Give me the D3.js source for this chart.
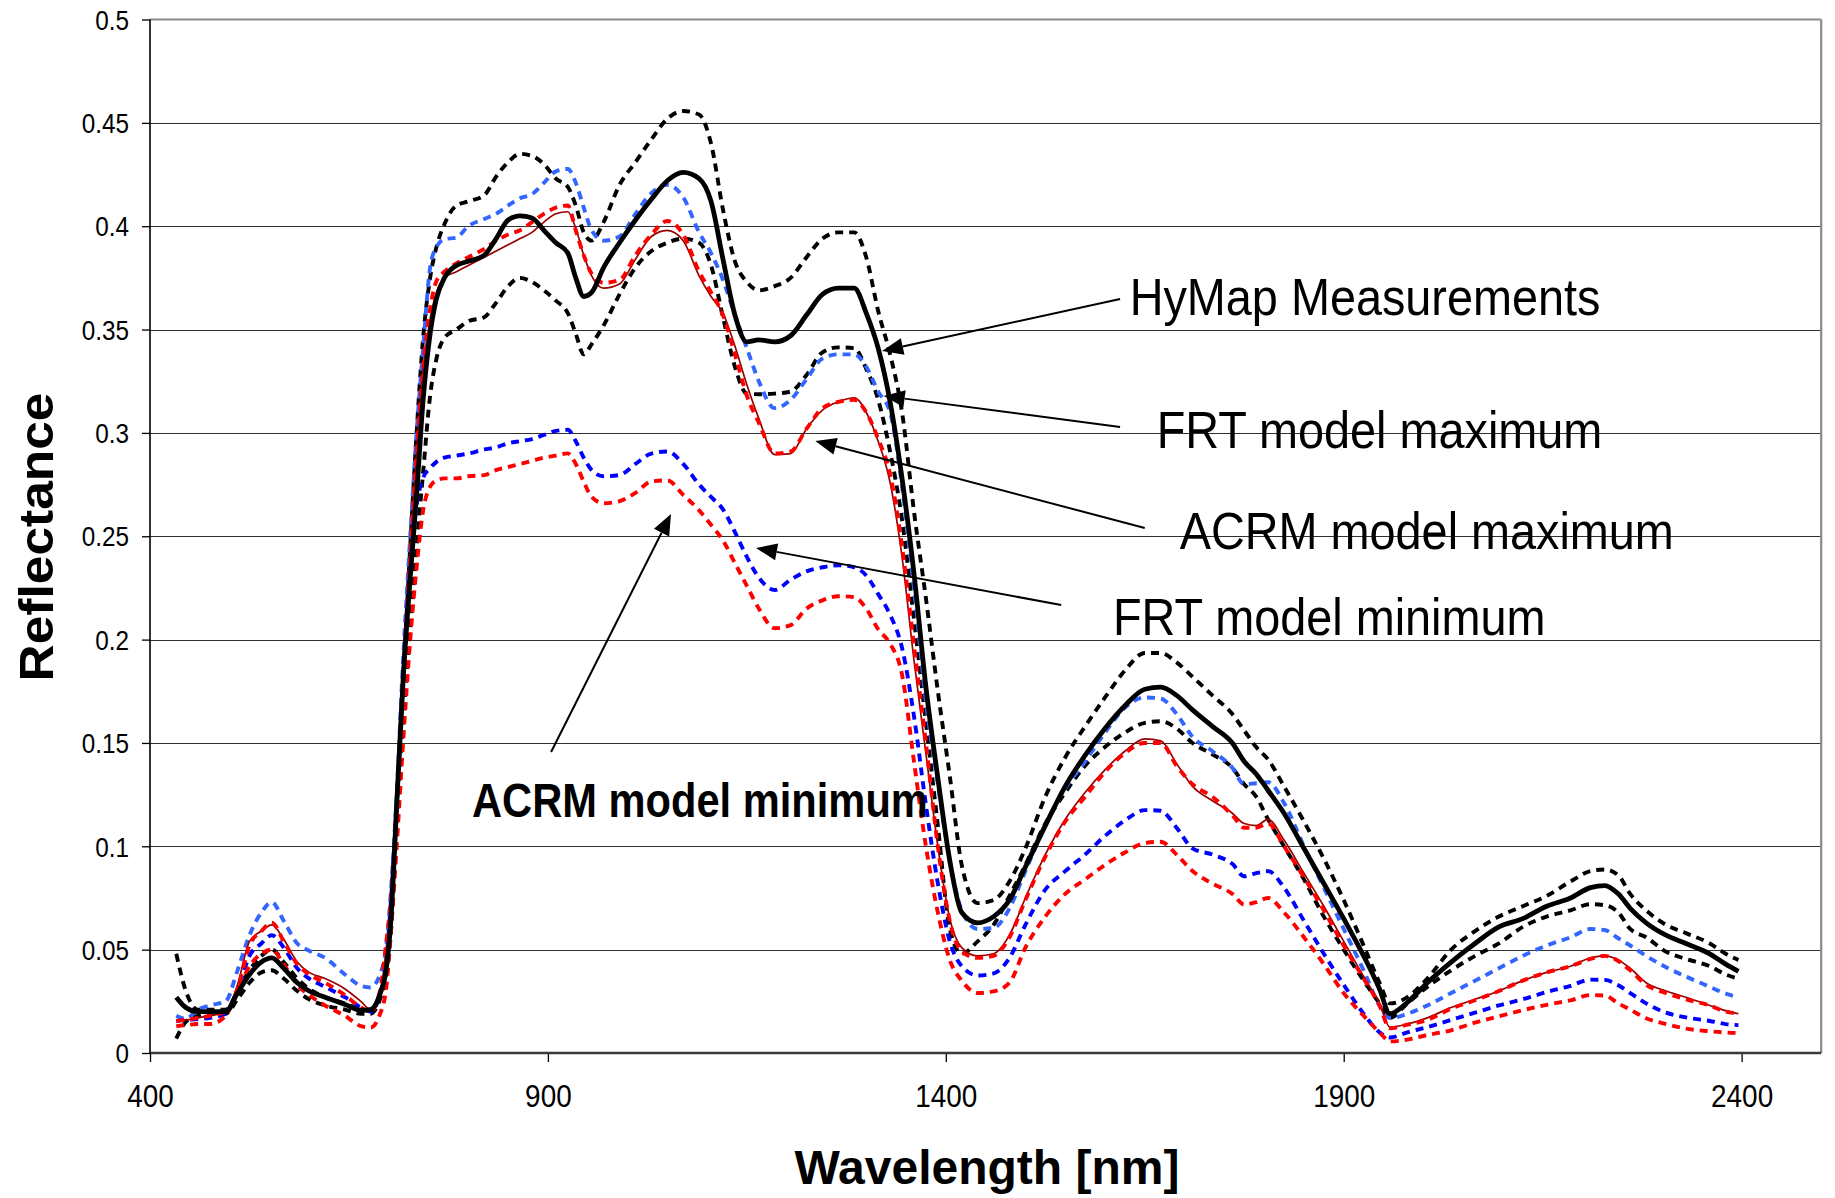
<!DOCTYPE html>
<html><head><meta charset="utf-8">
<script src="https://cdn.jsdelivr.net/npm/d3@7"></script>
<style>
html,body{margin:0;padding:0;background:#fff;}
svg{display:block;}
text{font-family:"Liberation Sans",Arial,Helvetica,sans-serif;}
</style>
</head><body>
<svg id="chart" width="1835" height="1198"></svg>
<script>
// ---------------- data ----------------
const wavelengths = [
 433,445,460,475,495,510,525,540,553,568,
 585,600,620,645,665,677,689,697,703,710,
 718,727,735,743,752,760,770,785,800,820,
 835,850,865,880,895,910,925,935,945,955,
 970,990,1010,1030,1050,1070,1090,1105,1120,1135,
 1150,1165,1185,1205,1225,1245,1265,1285,1300,1315,
 1330,1345,1360,1375,1390,1405,1420,1440,1460,1480,
 1500,1525,1550,1575,1600,1625,1650,1670,1690,1710,
 1735,1760,1775,1790,1805,1825,1850,1875,1900,1925,
 1945,1958,1980,2005,2035,2065,2095,2125,2155,2185,
 2210,2228,2245,2260,2280,2305,2330,2360,2380,2396];

const hymap = [
 0.027,0.022,0.020,0.020,0.020,0.029,0.038,0.044,0.046,0.041,
 0.034,0.030,0.027,0.0235,0.0207,0.021,0.0285,0.041,0.066,0.12,
 0.18,0.23,0.27,0.315,0.348,0.365,0.375,0.381,0.383,0.386,
 0.394,0.403,0.405,0.404,0.398,0.392,0.387,0.375,0.366,0.368,
 0.380,0.392,0.403,0.413,0.422,0.426,0.423,0.412,0.384,0.357,
 0.344,0.345,0.344,0.347,0.357,0.367,0.370,0.370,0.358,0.341,
 0.315,0.278,0.232,0.177,0.133,0.093,0.068,0.063,0.066,0.074,
 0.090,0.110,0.129,0.144,0.157,0.168,0.176,0.177,0.173,0.166,
 0.158,0.150,0.141,0.135,0.127,0.116,0.099,0.082,0.065,0.047,
 0.031,0.019,0.0245,0.034,0.044,0.053,0.061,0.065,0.071,0.075,
 0.080,0.081,0.077,0.070,0.063,0.057,0.053,0.048,0.043,0.0395];

const hymapUpper = [
 0.048,0.030,0.021,0.021,0.021,0.030,0.040,0.047,0.050,0.044,
 0.036,0.031,0.027,0.024,0.021,0.021,0.029,0.042,0.07,0.12,
 0.18,0.245,0.30,0.345,0.375,0.390,0.401,0.410,0.412,0.415,
 0.424,0.431,0.435,0.434,0.430,0.423,0.419,0.410,0.397,0.393,
 0.402,0.420,0.431,0.442,0.452,0.4557,0.454,0.440,0.408,0.383,
 0.373,0.369,0.371,0.375,0.385,0.394,0.397,0.397,0.385,0.359,
 0.338,0.310,0.262,0.220,0.175,0.134,0.091,0.0725,0.074,0.083,
 0.099,0.124,0.143,0.158,0.172,0.185,0.1935,0.1935,0.189,0.182,
 0.173,0.164,0.156,0.148,0.142,0.129,0.112,0.094,0.074,0.052,
 0.034,0.024,0.027,0.036,0.050,0.059,0.066,0.071,0.076,0.083,
 0.088,0.0888,0.086,0.077,0.069,0.062,0.058,0.053,0.048,0.045];

const hymapLower = [
 0.007,0.015,0.018,0.019,0.019,0.026,0.034,0.039,0.040,0.036,
 0.030,0.026,0.023,0.021,0.019,0.019,0.026,0.038,0.06,0.11,
 0.16,0.205,0.245,0.28,0.318,0.336,0.346,0.350,0.354,0.356,
 0.363,0.371,0.375,0.373,0.369,0.364,0.358,0.348,0.338,0.343,
 0.352,0.367,0.380,0.388,0.392,0.394,0.392,0.381,0.356,0.332,
 0.319,0.3187,0.319,0.320,0.328,0.339,0.3414,0.341,0.331,0.316,
 0.291,0.258,0.21,0.16,0.11,0.06,0.048,0.054,0.062,0.076,
 0.091,0.111,0.126,0.139,0.148,0.155,0.1597,0.1605,0.157,0.150,
 0.1445,0.138,0.130,0.124,0.113,0.100,0.084,0.066,0.050,0.035,
 0.024,0.017,0.024,0.032,0.040,0.047,0.053,0.061,0.066,0.069,
 0.072,0.0715,0.068,0.060,0.056,0.049,0.0455,0.042,0.038,0.036];

const frtMax = [
 0.018,0.0165,0.021,0.023,0.025,0.040,0.057,0.068,0.073,0.064,
 0.053,0.0495,0.046,0.038,0.0325,0.0317,0.038,0.052,0.08,0.125,
 0.19,0.25,0.30,0.34,0.380,0.390,0.3937,0.3945,0.400,0.4035,
 0.406,0.410,0.4135,0.4155,0.421,0.4265,0.4277,0.421,0.409,0.398,
 0.393,0.395,0.406,0.416,0.420,0.414,0.397,0.387,0.374,0.357,
 0.341,0.325,0.312,0.316,0.326,0.336,0.338,0.338,0.332,0.320,
 0.310,0.274,0.225,0.17,0.13,0.093,0.069,0.060,0.0605,0.070,
 0.088,0.110,0.128,0.141,0.155,0.167,0.172,0.1715,0.164,0.153,
 0.146,0.138,0.130,0.1305,0.131,0.121,0.100,0.080,0.060,0.040,
 0.023,0.0169,0.019,0.023,0.029,0.035,0.041,0.047,0.052,0.056,
 0.060,0.0595,0.0555,0.052,0.047,0.0415,0.037,0.032,0.0287,0.027];

const acrmMax = [
 0.0155,0.016,0.017,0.018,0.020,0.031,0.052,0.059,0.063,0.054,
 0.043,0.038,0.034,0.028,0.022,0.020,0.030,0.054,0.075,0.12,
 0.18,0.24,0.29,0.33,0.36,0.3735,0.378,0.382,0.385,0.389,
 0.393,0.396,0.398,0.402,0.406,0.409,0.410,0.398,0.386,0.377,
 0.3726,0.374,0.386,0.396,0.4025,0.396,0.378,0.368,0.357,0.338,
 0.318,0.305,0.290,0.291,0.302,0.312,0.315,0.316,0.310,0.297,
 0.280,0.245,0.197,0.15,0.10,0.064,0.049,0.046,0.047,0.056,
 0.074,0.095,0.112,0.124,0.136,0.145,0.150,0.150,0.139,0.130,
 0.124,0.115,0.109,0.109,0.111,0.100,0.085,0.069,0.052,0.036,
 0.023,0.012,0.0137,0.016,0.0215,0.0255,0.030,0.035,0.039,0.042,
 0.0455,0.047,0.0445,0.040,0.033,0.029,0.026,0.023,0.020,0.019];

const acrmMaxSmooth = [
 0.016,0.016,0.017,0.018,0.020,0.033,0.054,0.059,0.062,0.055,
 0.044,0.039,0.036,0.031,0.025,0.021,0.028,0.050,0.07,0.12,
 0.18,0.24,0.29,0.33,0.355,0.368,0.375,0.378,0.381,0.385,
 0.388,0.391,0.394,0.397,0.402,0.406,0.407,0.399,0.386,0.376,
 0.370,0.372,0.384,0.395,0.398,0.393,0.376,0.366,0.358,0.342,
 0.3233,0.307,0.2895,0.290,0.302,0.311,0.315,0.317,0.310,0.296,
 0.276,0.240,0.19,0.145,0.10,0.065,0.051,0.047,0.048,0.057,
 0.075,0.096,0.113,0.126,0.137,0.146,0.152,0.151,0.140,0.129,
 0.122,0.116,0.111,0.110,0.113,0.103,0.087,0.071,0.054,0.037,
 0.024,0.0125,0.014,0.017,0.022,0.026,0.030,0.035,0.039,0.042,
 0.046,0.047,0.045,0.041,0.034,0.030,0.027,0.023,0.0205,0.019];

const frtMin = [
 0.0155,0.016,0.0164,0.017,0.019,0.030,0.047,0.053,0.057,0.051,
 0.041,0.036,0.032,0.027,0.022,0.020,0.0285,0.045,0.075,0.12,
 0.18,0.235,0.265,0.278,0.283,0.286,0.288,0.289,0.290,0.292,
 0.293,0.295,0.296,0.297,0.299,0.301,0.3015,0.296,0.288,0.282,
 0.279,0.2796,0.285,0.290,0.291,0.285,0.275,0.269,0.263,0.252,
 0.240,0.230,0.224,0.229,0.233,0.235,0.236,0.235,0.231,0.222,
 0.212,0.196,0.163,0.12,0.082,0.054,0.042,0.0375,0.0385,0.046,
 0.062,0.079,0.088,0.096,0.105,0.1125,0.1175,0.1172,0.109,0.099,
 0.096,0.0915,0.0855,0.087,0.088,0.080,0.064,0.048,0.033,0.019,
 0.010,0.0075,0.010,0.0125,0.016,0.0195,0.023,0.026,0.0295,0.0325,
 0.0355,0.0354,0.0328,0.029,0.024,0.0195,0.0172,0.0155,0.014,0.0135];

const acrmMin = [
 0.013,0.0135,0.014,0.014,0.018,0.030,0.042,0.048,0.050,0.043,
 0.033,0.028,0.023,0.018,0.013,0.0123,0.0188,0.032,0.06,0.10,
 0.15,0.20,0.235,0.262,0.274,0.277,0.278,0.278,0.279,0.2796,
 0.282,0.2835,0.285,0.2865,0.288,0.289,0.2901,0.285,0.2764,0.269,
 0.266,0.267,0.271,0.2765,0.277,0.270,0.2625,0.2555,0.248,0.237,
 0.226,0.215,0.2055,0.207,0.215,0.219,0.221,0.2205,0.215,0.205,
 0.198,0.183,0.141,0.10,0.068,0.045,0.035,0.029,0.0298,0.034,
 0.051,0.066,0.077,0.084,0.091,0.097,0.1016,0.1022,0.096,0.088,
 0.082,0.077,0.0718,0.073,0.075,0.068,0.056,0.043,0.029,0.018,
 0.010,0.0056,0.0065,0.0087,0.011,0.0147,0.0178,0.0207,0.0233,0.0255,
 0.028,0.0278,0.024,0.021,0.0168,0.014,0.0118,0.0105,0.0099,0.0097];

const xTicks = [400, 900, 1400, 1900, 2400];
const yTicks = [0, 0.05, 0.1, 0.15, 0.2, 0.25, 0.3, 0.35, 0.4, 0.45, 0.5];
const xTitle = "Wavelength [nm]";
const yTitle = "Reflectance";

// annotation labels and arrows (data coordinates: wavelength, reflectance)
const labelTexts = ["HyMap Measurements", "FRT model maximum", "ACRM model maximum", "FRT model minimum", "ACRM model minimum"];
const labelPos = [[1631, 0.357], [1665, 0.2927], [1694, 0.2438], [1610, 0.2022], [804.6, 0.1142]];
const arrowFrom = [[1619, 0.3648], [1619, 0.3029], [1650, 0.254], [1545, 0.2167], [904, 0.1456]];
const arrowTo = [[1320, 0.3396], [1322, 0.3179], [1236, 0.2961], [1161.5, 0.2443], [1054.7, 0.2608]];

// ---------------- drawing ----------------
const svg = d3.select("#chart");
const W = 1835, H = 1198;
svg.append("rect").attr("width", W).attr("height", H).attr("fill", "#fff");

const x = d3.scaleLinear().domain([400, 2500]).range([150, 1821.2]);
const y = d3.scaleLinear().domain([0, 0.5]).range([1053, 19.5]);

function fit(sel, factor) {
  sel.each(function () {
    const w = this.getComputedTextLength();
    d3.select(this).attr("textLength", (w * factor).toFixed(1)).attr("lengthAdjust", "spacingAndGlyphs");
  });
}

// gridlines
svg.append("g").selectAll("line").data(yTicks.filter(t => t > 0 && t < 0.5)).join("line")
  .attr("x1", x(400)).attr("x2", x(2500))
  .attr("y1", d => Math.round(y(d)) + 0.5).attr("y2", d => Math.round(y(d)) + 0.5)
  .attr("stroke", "#303030").attr("stroke-width", 1.2);

// plot border (top / right)
svg.append("line").attr("x1", x(400)).attr("x2", x(2500)).attr("y1", y(0.5)).attr("y2", y(0.5))
  .attr("stroke", "#8a8a8a").attr("stroke-width", 2);
svg.append("line").attr("x1", x(2500)).attr("x2", x(2500)).attr("y1", y(0.5)).attr("y2", y(0))
  .attr("stroke", "#8a8a8a").attr("stroke-width", 2.2);

// series
const seriesDefs = [
  { values: hymapUpper, color: "#000000", width: 3.9, dash: "8,6" },
  { values: hymapLower, color: "#000000", width: 3.9, dash: "8,6" },
  { values: frtMax, color: "#3366ff", width: 3.9, dash: "8,6" },
  { values: frtMin, color: "#0000ff", width: 3.9, dash: "8,6" },
  { values: acrmMaxSmooth, color: "#990000", width: 1.7, dash: null },
  { values: acrmMax, color: "#ff0000", width: 3.9, dash: "8,6" },
  { values: acrmMin, color: "#ff0000", width: 3.9, dash: "8,6" },
  { values: hymap, color: "#000000", width: 4.8, dash: null }
];
const line = d3.line().x((d, i) => x(wavelengths[i])).y(d => y(d)).curve(d3.curveMonotoneX);
svg.append("g").selectAll("path").data(seriesDefs).join("path")
  .attr("d", d => line(d.values))
  .attr("fill", "none")
  .attr("stroke", d => d.color)
  .attr("stroke-width", d => d.width)
  .attr("stroke-dasharray", d => d.dash)
  .attr("stroke-linejoin", "round");

// axes
const yAxis = d3.axisLeft(y).tickValues(yTicks).tickSize(8).tickFormat(d3.format("~g"));
const gy = svg.append("g").attr("transform", `translate(${x(400)},0)`).call(yAxis);
gy.select(".domain").remove();
gy.selectAll(".tick line").attr("stroke", "#000").attr("stroke-width", 1.3);
gy.selectAll(".tick text").attr("x", -21).attr("dy", "0.36em")
  .attr("font-size", 27).attr("fill", "#000").attr("font-family", '"Liberation Sans",Arial,sans-serif')
  .call(fit, 0.9);

const xAxis = d3.axisBottom(x).tickValues(xTicks).tickSize(9).tickFormat(d3.format("d"));
const gx = svg.append("g").attr("transform", `translate(0,${y(0)})`).call(xAxis);
gx.select(".domain").remove();
gx.selectAll(".tick line").attr("stroke", "#000").attr("stroke-width", 1.3);
gx.selectAll(".tick text").attr("y", 54).attr("dy", 0)
  .attr("font-size", 31).attr("fill", "#000").attr("font-family", '"Liberation Sans",Arial,sans-serif')
  .call(fit, 0.9);

// axis lines
svg.append("line").attr("x1", x(400)).attr("x2", x(2500)).attr("y1", y(0)).attr("y2", y(0))
  .attr("stroke", "#3a3a3a").attr("stroke-width", 2.4);
svg.append("line").attr("x1", x(400)).attr("x2", x(400)).attr("y1", y(0.5)).attr("y2", y(0) + 1)
  .attr("stroke", "#000").attr("stroke-width", 1.6);

// axis titles
svg.append("text").attr("x", 987).attr("y", 1184).attr("text-anchor", "middle")
  .attr("font-size", 48).attr("font-weight", "bold").text(xTitle).call(fit, 1.0);
svg.append("text").attr("transform", "translate(53,537) rotate(-90)").attr("text-anchor", "middle")
  .attr("font-size", 49).attr("font-weight", "bold").text(yTitle).call(fit, 1.05);

// arrows
const ag = svg.append("g");
arrowFrom.forEach((f, i) => {
  const x1 = x(f[0]), y1 = y(f[1]), x2 = x(arrowTo[i][0]), y2 = y(arrowTo[i][1]);
  const ang = Math.atan2(y2 - y1, x2 - x1);
  const L = 21, hw = 8.5;
  const bx = x2 - L * Math.cos(ang), by = y2 - L * Math.sin(ang);
  ag.append("line").attr("x1", x1).attr("y1", y1).attr("x2", bx).attr("y2", by)
    .attr("stroke", "#000").attr("stroke-width", 2);
  const px = -Math.sin(ang), py = Math.cos(ang);
  ag.append("path")
    .attr("d", `M${x2},${y2}L${bx + px * hw},${by + py * hw}L${bx - px * hw},${by - py * hw}Z`)
    .attr("fill", "#000");
});

// labels
const widthFactors = [0.9, 0.9, 0.9, 0.9, 0.85];
labelTexts.forEach((t, i) => {
  const bold = i === 4;
  svg.append("text").attr("x", x(labelPos[i][0])).attr("y", y(labelPos[i][1]))
    .attr("font-size", bold ? 49 : 52).attr("font-weight", bold ? "bold" : "normal")
    .attr("fill", "#000").text(t).call(fit, widthFactors[i]);
});
</script>
</body></html>
